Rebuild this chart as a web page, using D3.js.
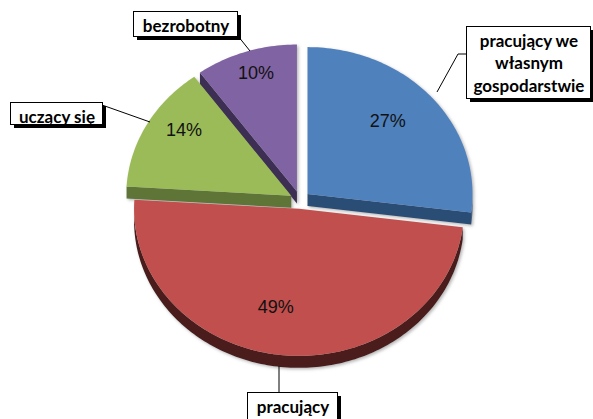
<!DOCTYPE html>
<html>
<head>
<meta charset="utf-8">
<script src="https://cdn.jsdelivr.net/npm/d3@7"></script>
<style>
  html, body { margin: 0; padding: 0; background: #fff; }
  svg { display: block; }
</style>
</head>
<body>
<div id="chart"></div>
<script>
// Data
const categories = ['pracujący we własnym gospodarstwie', 'pracujący', 'uczący się', 'bezrobotny'];
const values = [27, 49, 14, 10];
const labelLines = [['pracujący we', 'własnym', 'gospodarstwie'], ['pracujący'], ['uczący się'], ['bezrobotny']];
const topColors = ['#4F81BD', '#C0504D', '#9BBB59', '#8064A2'];
const sideColors = ['#2C4D75', '#4B1E1E', '#5F7537', '#3D2E52'];

// Layout
const width = 593;
const height = 419;
const cx = 300, cy = 200;
const rx = 165, ry = 147;
const depth = 12;
const explode = 10;
// percentage label placement (Excel "best fit"): [radius fraction, angle in degrees]
const pctPlace = [[0.70, 44], [0.68, 192], [0.79, 304.7], [0.85, 343]];
// callout boxes: [x, y, w, h] and leader polylines
const boxes = [
	[466, 26, 124, 72],
	[247, 392, 90, 34],
	[10, 102, 92, 22],
	[133, 11, 104, 25],
];
const leaders = [
	[[466, 54], [458, 54], [437, 92]],
	[[279, 392], [279, 366]],
	[[102, 105], [150, 122]],
	[[238, 36], [250, 51]],
];

const svg = d3.select('#chart')
	.append('svg')
	.attr('width', width)
	.attr('height', height);

const defs = svg.append('defs');
const shadow = defs.append('filter')
	.attr('id', 'soft')
	.attr('x', '-10%').attr('y', '-10%')
	.attr('width', '120%').attr('height', '120%');
shadow.append('feDropShadow')
	.attr('dx', 1.5).attr('dy', 1.5)
	.attr('stdDeviation', 1.5)
	.attr('flood-color', '#777')
	.attr('flood-opacity', 0.55);

const arcs = d3.pie().sort(null).value((d) => d)(values);

// angle 0 at 12 o'clock, clockwise
const pt = (ox, oy, a, dz = 0) => [ox + rx * Math.sin(a), oy - ry * Math.cos(a) + dz];
const line = d3.line();

function arcPoints(ox, oy, a0, a1, dz) {
	const n = Math.max(2, Math.ceil((a1 - a0) / 0.02));
	return d3.range(n + 1).map((i) => pt(ox, oy, a0 + (a1 - a0) * i / n, dz));
}

const slices = arcs.map((a, i) => {
	const mid = (a.startAngle + a.endAngle) / 2;
	const ox = cx + explode * Math.sin(mid);
	const oy = cy - explode * Math.cos(mid) * (ry / rx);
	return { ...a, i, mid, ox, oy };
});

// draw back to front
const order = slices.slice().sort((p, q) => p.oy - q.oy);

const g = svg.append('g').attr('filter', 'url(#soft)');

order.forEach((s) => {
	const sg = g.append('g');
	const a0 = s.startAngle, a1 = s.endAngle;

	// radial walls that face the viewer
	[[a0, -1], [a1, 1]].forEach(([ang, dir]) => {
		const ny = dir * Math.sin(ang); // screen-y of wall normal
		if (ny > 0) {
			const p = pt(s.ox, s.oy, ang);
			const quad = [[s.ox, s.oy], p, [p[0], p[1] + depth], [s.ox, s.oy + depth]];
			sg.append('path')
				.attr('d', line(quad) + 'Z')
				.attr('fill', sideColors[s.i]);
		}
	});

	// outer wall on the front half (angles between 90° and 270°)
	const lo = Math.max(a0, Math.PI / 2);
	const hi = Math.min(a1, 3 * Math.PI / 2);
	if (hi > lo) {
		const top = arcPoints(s.ox, s.oy, lo, hi, 0);
		const bot = arcPoints(s.ox, s.oy, lo, hi, depth).reverse();
		sg.append('path')
			.attr('d', line(top.concat(bot)) + 'Z')
			.attr('fill', sideColors[s.i]);
	}

	// top face
	const face = [[s.ox, s.oy]].concat(arcPoints(s.ox, s.oy, a0, a1, 0));
	sg.append('path')
		.attr('d', line(face) + 'Z')
		.attr('fill', topColors[s.i]);
});

// percentage labels
const total = d3.sum(values);
const pctXY = (d) => {
	const [r, deg] = pctPlace[d.i];
	const a = deg * Math.PI / 180;
	return pt(d.ox, d.oy, a).map((v, k) => (k === 0 ? d.ox : d.oy) + (v - (k === 0 ? d.ox : d.oy)) * r);
};
svg.append('g')
	.selectAll('text')
	.data(slices)
	.join('text')
	.attr('x', (d) => pctXY(d)[0])
	.attr('y', (d) => pctXY(d)[1] + 6.5)
	.attr('text-anchor', 'middle')
	.attr('font-family', '"Liberation Sans", Arial, sans-serif')
	.attr('font-size', 18)
	.attr('fill', '#111')
	.text((d) => `${Math.round(d.value / total * 100)}%`);

// leader lines
svg.append('g')
	.selectAll('path')
	.data(leaders)
	.join('path')
	.attr('d', (d) => line(d))
	.attr('fill', 'none')
	.attr('stroke', '#000')
	.attr('stroke-width', 1);

// callout boxes
const callouts = svg.append('g')
	.selectAll('g')
	.data(categories)
	.join('g');

callouts.append('rect')
	.attr('x', (d, i) => boxes[i][0] + 4)
	.attr('y', (d, i) => boxes[i][1] + 4)
	.attr('width', (d, i) => boxes[i][2])
	.attr('height', (d, i) => boxes[i][3])
	.attr('fill', '#000');

callouts.append('rect')
	.attr('x', (d, i) => boxes[i][0] + 0.5)
	.attr('y', (d, i) => boxes[i][1] + 0.5)
	.attr('width', (d, i) => boxes[i][2])
	.attr('height', (d, i) => boxes[i][3])
	.attr('fill', '#fff')
	.attr('stroke', '#000')
	.attr('stroke-width', 1);

callouts.each(function (d, i) {
	const [bx, by, bw] = boxes[i];
	const t = d3.select(this).append('text')
		.attr('text-anchor', 'middle')
		.attr('font-family', 'Lato, "Open Sans", sans-serif')
		.attr('font-weight', 'bold')
		.attr('font-size', 17)
		.attr('fill', '#000');
	labelLines[i].forEach((ln, k) => {
		t.append('tspan')
			.attr('x', bx + bw / 2 + 1)
			.attr('y', by + 20.5 + k * 22.5)
			.text(ln);
	});
});
</script>
</body>
</html>
